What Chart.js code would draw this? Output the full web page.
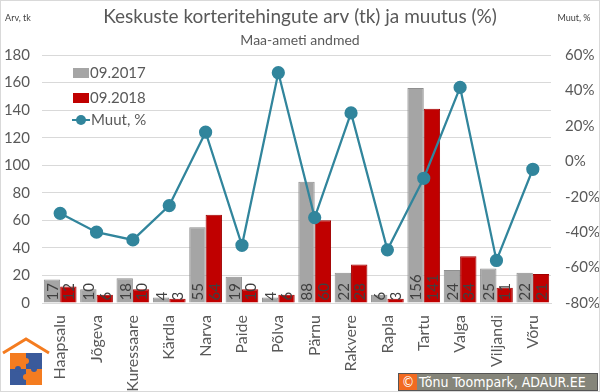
<!DOCTYPE html>
<html>
<head>
<meta charset="utf-8">
<script src="https://cdn.jsdelivr.net/npm/chart.js@4.4.1/dist/chart.umd.min.js"></script>
<style>
  html, body { margin: 0; padding: 0; background: #fff; }
  #wrap { position: relative; width: 600px; height: 392px; overflow: hidden; }
  #copy {
    position: absolute; left: 398px; top: 373px; height: 18px; width: 200px;
    background: #85857a; border: 1px solid #555; box-sizing: border-box;
    font-family: "DejaVu Sans Condensed", "DejaVu Sans", sans-serif; font-size: 14px; color: #fff;
    line-height: 16px; white-space: nowrap;
  }
  #copy b { display: inline-block; background: #f26a21; width: 18px; text-align: center; font-weight: normal; margin-right: 2px; }
  #logo { position: absolute; left: 0; top: 335px; }
</style>
</head>
<body>
<div id="wrap">
  <canvas id="chart" width="600" height="392"></canvas>
  <svg id="logo" width="56" height="56" viewBox="0 0 56 56">
    <polyline points="3,18 26,4 49,18" fill="none" stroke="#f47c20" stroke-width="3"/>
    <rect x="10" y="18" width="16" height="16" fill="#f47c20"/>
    <rect x="26" y="18" width="16" height="16" fill="#3a5a9b"/>
    <rect x="10" y="34" width="16" height="16" fill="#3a5a9b"/>
    <rect x="26" y="34" width="16" height="16" fill="#f47c20"/>
    <circle cx="26" cy="26" r="3" fill="#f47c20"/>
    <circle cx="18" cy="34" r="3" fill="#3a5a9b"/>
    <circle cx="34" cy="34" r="3" fill="#3a5a9b"/>
    <circle cx="26" cy="42" r="3" fill="#f47c20"/>
  </svg>
  <div id="copy"><b>©</b>Tõnu Toompark, ADAUR.EE</div>
</div>
<script>
const cities = ["Haapsalu", "Jõgeva", "Kuressaare", "Kärdla", "Narva", "Paide", "Põlva",
  "Pärnu", "Rakvere", "Rapla", "Tartu", "Valga", "Viljandi", "Võru"];
const sales2017 = [17, 10, 18, 4, 55, 19, 4, 88, 22, 6, 156, 24, 25, 22];
const sales2018 = [12, 6, 10, 3, 64, 10, 6, 60, 28, 3, 141, 34, 11, 21];
const changePct = [-29.4, -40, -44.4, -25, 16.4, -47.4, 50, -31.8, 27.3, -50, -9.6, 41.7, -56, -4.5];

const FONT = "Lato, 'Open Sans', sans-serif";
const TXT = "#595959";

// titles, axis captions, legend and bar labels
const decor = {
  id: "decor",
  afterDatasetsDraw(chart) {
    const ctx = chart.ctx;
    ctx.save();
    // bar value labels, rotated, at the base of each bar
    [0, 1].forEach(di => {
      const meta = chart.getDatasetMeta(di);
      const vals = chart.data.datasets[di].data;
      meta.data.forEach((bar, i) => {
        ctx.save();
        ctx.translate(bar.x, bar.base - 2);
        ctx.rotate(-Math.PI / 2);
        ctx.font = "15px " + FONT;
        ctx.fillStyle = "#404040";
        ctx.textAlign = "left";
        ctx.textBaseline = "middle";
        ctx.fillText(String(vals[i]), 0, 1);
        ctx.restore();
      });
    });
    ctx.restore();
  },
  afterDraw(chart) {
    const ctx = chart.ctx;
    ctx.save();
    ctx.fillStyle = TXT;
    ctx.textAlign = "center";
    ctx.textBaseline = "middle";
    ctx.font = "19px " + FONT;
    ctx.fillText("Keskuste korteritehingute arv (tk) ja muutus (%)", 300, 17);
    ctx.font = "14px " + FONT;
    ctx.fillText("Maa-ameti andmed", 300, 40);
    ctx.font = "9px " + FONT;
    ctx.fillStyle = "#404040";
    ctx.fillText("Arv, tk", 18, 18);
    ctx.fillText("Muut, %", 574, 18);

    // legend
    const ds = chart.data.datasets;
    ctx.font = "15px " + FONT;
    ctx.textAlign = "left";
    ctx.fillStyle = ds[0].backgroundColor;
    ctx.fillRect(73, 68, 16, 10);
    ctx.fillStyle = ds[1].backgroundColor;
    ctx.fillRect(73, 93, 16, 10);
    ctx.strokeStyle = ds[2].borderColor;
    ctx.lineWidth = 2;
    ctx.beginPath();
    ctx.moveTo(72, 120); ctx.lineTo(90, 120); ctx.stroke();
    ctx.fillStyle = ds[2].borderColor;
    ctx.beginPath(); ctx.arc(81, 120, 5, 0, Math.PI * 2); ctx.fill();
    ctx.fillStyle = TXT;
    ctx.fillText(ds[0].label, 90, 73);
    ctx.fillText(ds[1].label, 90, 98);
    ctx.fillText(ds[2].label, 91, 120);

    // outer frame
    ctx.strokeStyle = "#d9d9d9";
    ctx.lineWidth = 1;
    ctx.strokeRect(0.5, 0.5, 599, 391);
    ctx.restore();
  }
};

new Chart(document.getElementById("chart"), {
  data: {
    labels: cities,
    datasets: [
      { type: "bar", label: "09.2017", data: sales2017, yAxisID: "y",
        backgroundColor: "#a5a5a5", borderColor: "#8f8f8f", borderWidth: 1,
        categoryPercentage: 0.9, barPercentage: 1, order: 2 },
      { type: "bar", label: "09.2018", data: sales2018, yAxisID: "y",
        backgroundColor: "#c00000", borderColor: "#a00000", borderWidth: 1,
        categoryPercentage: 0.9, barPercentage: 1, order: 2 },
      { type: "line", label: "Muut, %", data: changePct, yAxisID: "y1",
        borderColor: "#31859c", backgroundColor: "#31859c", borderWidth: 2.25,
        pointRadius: 5.5, pointHoverRadius: 5.5, tension: 0, order: 1 }
    ]
  },
  options: {
    responsive: false,
    animation: false,
    layout: { padding: { top: 55, left: 0, right: 0, bottom: 0 } },
    plugins: { legend: { display: false }, tooltip: { enabled: false } },
    scales: {
      x: {
        grid: { display: false, drawTicks: false },
        border: { color: "#d9d9d9" },
        ticks: { color: TXT, font: { family: FONT, size: 16 }, minRotation: 90, maxRotation: 90, padding: 12, autoSkip: false },
        afterFit(s) { s.height = 89; }
      },
      y: {
        position: "left", min: 0, max: 180,
        grid: { color: "#d9d9d9", drawTicks: false },
        border: { display: false },
        ticks: { stepSize: 20, color: TXT, font: { family: FONT, size: 15 }, padding: 12 },
        afterFit(s) { s.width = 42; }
      },
      y1: {
        position: "right", min: -80, max: 60,
        grid: { display: false, drawTicks: false },
        border: { display: false },
        ticks: { stepSize: 20, color: TXT, font: { family: FONT, size: 15 }, padding: 14,
          callback: v => v + "%" },
        afterFit(s) { s.width = 49; }
      }
    }
  },
  plugins: [decor]
});
</script>
</body>
</html>
